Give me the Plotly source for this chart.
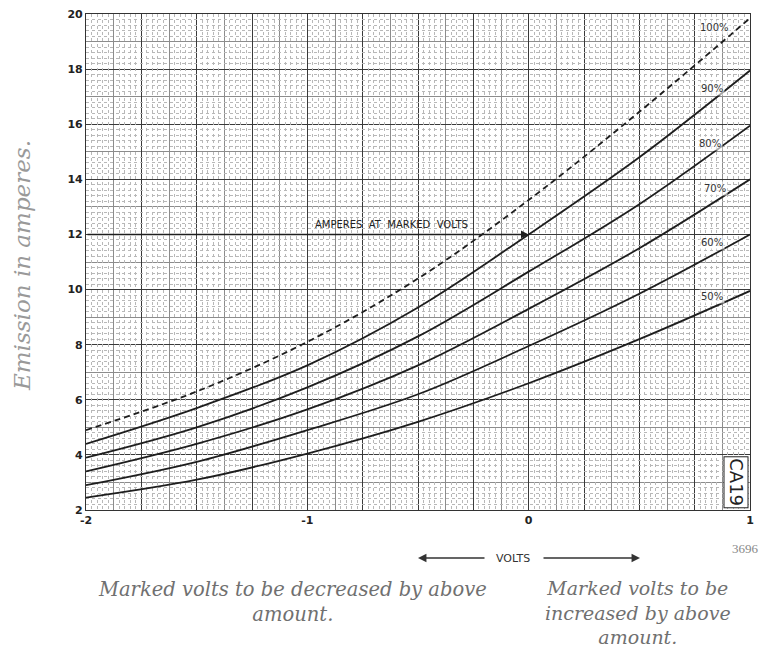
import plotly.graph_objects as go

# ---- data ----
volts = [-2, -1.5, -1, -0.5, 0, 0.5, 1]
emission_100 = [4.9, 6.3, 8.1, 10.4, 13.25, 16.45, 19.85]
emission_90 = [4.4, 5.7, 7.25, 9.35, 12.0, 14.8, 17.95]
emission_80 = [3.9, 5.0, 6.45, 8.3, 10.65, 13.1, 15.95]
emission_70 = [3.4, 4.4, 5.65, 7.25, 9.3, 11.5, 14.0]
emission_60 = [2.9, 3.75, 4.9, 6.2, 7.95, 9.85, 12.0]
emission_50 = [2.45, 3.1, 4.05, 5.2, 6.6, 8.2, 9.95]

series_names = ["100%", "90%", "80%", "70%", "60%", "50%"]
series_values = [emission_100, emission_90, emission_80, emission_70, emission_60, emission_50]
label_x = [0.84, 0.83, 0.82, 0.84, 0.83, 0.83]
label_y = [19.5, 17.3, 15.3, 13.65, 11.7, 9.75]

x_tick_vals = [-2, -1.75, -1.5, -1.25, -1, -0.75, -0.5, -0.25, 0, 0.25, 0.5, 0.75, 1]
x_tick_text = ["-2", "", "", "", "-1", "", "", "", "0", "", "", "", "1"]
y_tick_vals = [2, 4, 6, 8, 10, 12, 14, 16, 18, 20]

# graph-paper fine rulings (5 per medium square), skipping medium/heavy positions
fine_x = [round(-2 + i * 0.025, 4) for i in range(121) if i % 5]
fine_y = [round(2 + i * 0.2, 4) for i in range(91) if i % 5]

fig = go.Figure()

for name, vals in zip(series_names, series_values):
    fig.add_trace(go.Scatter(
        x=volts, y=vals, name=name, mode="lines",
        line=dict(color="#1e1e1e", width=1.8, shape="spline", smoothing=1.0,
                  dash="6px,4px" if name == "100%" else "solid"),
        showlegend=False, hoverinfo="skip",
    ))
# empty trace so the fine-ruling overlay axes exist
fig.add_trace(go.Scatter(x=[], y=[], xaxis="x2", yaxis="y2", showlegend=False, hoverinfo="skip"))

sans = "DejaVu Sans"
serif = "DejaVu Serif"

fig.update_layout(
    width=767, height=647,
    margin=dict(l=78, r=25, t=6, b=145, autoexpand=False),
    paper_bgcolor="white", plot_bgcolor="white",
    showlegend=False,
    xaxis=dict(range=[-2, 1], automargin=False,
               tickmode="array", tickvals=x_tick_vals, ticktext=x_tick_text,
               showgrid=True, gridcolor="#3a3a3a", gridwidth=1,
               minor=dict(tickmode="linear", tick0=-2, dtick=0.125,
                          showgrid=True, gridcolor="#8c8c8c", gridwidth=1),
               zeroline=False, showline=True, mirror=True, linecolor="#333", linewidth=1.2,
               ticks="", ticklabeloverflow="allow",
               tickfont=dict(family=sans, size=11, color="#222", weight="bold")),
    yaxis=dict(range=[2, 20], automargin=False,
               tickmode="array", tickvals=y_tick_vals,
               showgrid=True, gridcolor="#3a3a3a", gridwidth=1,
               minor=dict(tickmode="linear", tick0=2, dtick=1,
                          showgrid=True, gridcolor="#8c8c8c", gridwidth=1),
               zeroline=False, showline=True, mirror=True, linecolor="#333", linewidth=1.2,
               ticks="", ticklabeloverflow="allow",
               tickfont=dict(family=sans, size=11, color="#222", weight="bold")),
    xaxis2=dict(range=[-2, 1], overlaying="x", anchor="y2", showticklabels=False,
                tickmode="array", tickvals=fine_x, showgrid=True, automargin=False,
                gridcolor="#b8b8b8", gridwidth=1, griddash="dot",
                zeroline=False, showline=False, ticks=""),
    yaxis2=dict(range=[2, 20], overlaying="y", anchor="x2", showticklabels=False,
                tickmode="array", tickvals=fine_y, showgrid=True, automargin=False,
                gridcolor="#b8b8b8", gridwidth=1, griddash="dot",
                zeroline=False, showline=False, ticks=""),
)

ann = []
for name, lx, ly in zip(series_names, label_x, label_y):
    ann.append(dict(x=lx, y=ly, xref="x", yref="y", text=name, showarrow=False,
                    xanchor="center", yanchor="middle",
                    font=dict(family=sans, size=10, color="#333"), bgcolor="rgba(255,255,255,0.6)"))
ann.append(dict(x=0, y=12, xref="x", yref="y", ax=-2, ay=12, axref="x", ayref="y",
                text="", showarrow=True, arrowhead=2, arrowsize=1.1, arrowwidth=1.4,
                arrowcolor="#1e1e1e", standoff=0))
ann.append(dict(x=-0.62, y=12.35, xref="x", yref="y",
                text="AMPERES\u00a0\u00a0AT\u00a0\u00a0MARKED\u00a0\u00a0VOLTS",
                xanchor="center", yanchor="middle",
                showarrow=False, font=dict(family=sans, size=10, color="#222")))
ann.append(dict(x=0.935, y=3.02, xref="x", yref="y", text="CA19", textangle=90,
                xanchor="center", yanchor="middle",
                showarrow=False, font=dict(family=sans, size=18, color="#222"),
                bgcolor="white", bordercolor="#222", borderwidth=1, borderpad=1))


def px_x(p):
    return (p - 86) / 664


def px_y(p):
    return (510 - p) / 496


ann.append(dict(x=px_x(22), y=px_y(266), xref="paper", yref="paper", text="Emission in amperes.",
                textangle=-90, showarrow=False, xanchor="center", yanchor="middle",
                font=dict(family=serif, size=23, color="#999999", style="italic")))
ann.append(dict(x=px_x(513), y=px_y(558), xref="paper", yref="paper", xanchor="center",
                yanchor="middle", text="VOLTS", showarrow=False,
                font=dict(family=sans, size=11, color="#333")))
ann.append(dict(x=px_x(418), y=px_y(558), xref="paper", yref="paper",
                ax=68, ay=0, text="", showarrow=True, arrowhead=2, arrowsize=1.3,
                arrowwidth=1.3, arrowcolor="#333"))
ann.append(dict(x=px_x(640), y=px_y(558), xref="paper", yref="paper",
                ax=-98, ay=0, text="", showarrow=True, arrowhead=2, arrowsize=1.3,
                arrowwidth=1.3, arrowcolor="#333"))
ann.append(dict(x=px_x(745), y=px_y(548), xref="paper", yref="paper", xanchor="center",
                yanchor="middle", text="3696", showarrow=False,
                font=dict(family="Liberation Serif", size=13, color="#888")))
ann.append(dict(x=px_x(292), y=px_y(602), xref="paper", yref="paper", xanchor="center",
                yanchor="middle", text="Marked volts to be decreased by above<br>amount.",
                align="center", showarrow=False,
                font=dict(family=serif, size=19.5, color="#707070", style="italic")))
ann.append(dict(x=px_x(638), y=px_y(612), xref="paper", yref="paper", xanchor="center",
                yanchor="middle", text="Marked volts to be<br>increased by above<br>amount.",
                align="center", showarrow=False,
                font=dict(family=serif, size=19, color="#707070", style="italic")))
fig.update_layout(annotations=ann)

fig.write_html("out.html")
